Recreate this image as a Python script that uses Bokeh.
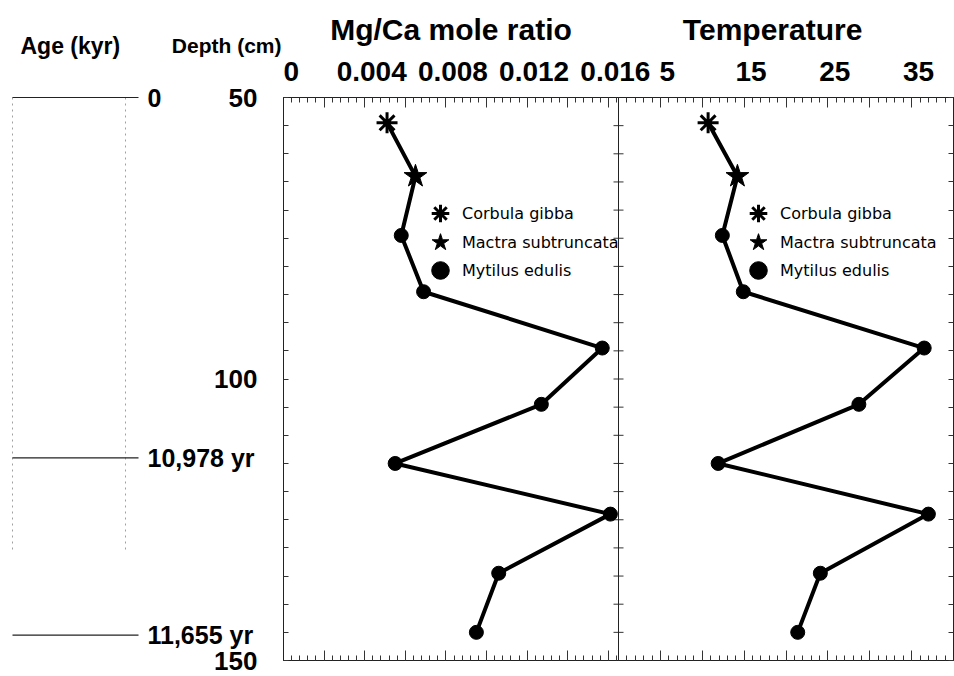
from bokeh.plotting import figure
from bokeh.layouts import row
from bokeh.core.properties import value
from bokeh.models import (Range1d, LinearAxis, FixedTicker, CustomJSTickFormatter, Span,
                          ColumnDataSource, Legend, LegendItem)
from bokeh.embed import file_html
from bokeh.resources import INLINE

# ---------------- data ----------------
DEPTH_CM = [54.5, 64, 74.5, 84.5, 94.5, 104.5, 115, 124, 134.5, 145]
MG_CA = [0.0051, 0.0065, 0.0058, 0.0069, 0.0157, 0.0127, 0.0055, 0.0161, 0.0106, 0.0095]
TEMP_C = [10.7, 14.2, 12.4, 14.9, 36.5, 28.7, 11.9, 37.0, 24.1, 21.4]
SPECIES = ["Corbula gibba", "Mactra subtruncata"] + ["Mytilus edulis"] * 8
SPECIES_ORDER = ["Corbula gibba", "Mactra subtruncata", "Mytilus edulis"]

AGE_DEPTH_CM = [50, 114, 145.5]
AGE_LABELS = ["0", "10,978 yr", "11,655 yr"]

MG_TICKS = [0, 0.002, 0.004, 0.006, 0.008, 0.010, 0.012, 0.014, 0.016]
MG_LABELED = [0, 0.004, 0.008, 0.012, 0.016]
MG_LABELS = ["0", "0.004", "0.008", "0.012", "0.016"]
TEMP_TICKS = [0, 5, 10, 15, 20, 25, 30, 35, 40]
TEMP_LABELED = [5, 15, 25, 35]
TEMP_LABELS = ["5", "15", "25", "35"]
DEPTH_TICKS = list(range(50, 151, 5))
DEPTH_LABELED = [50, 100, 150]

PANEL_TITLES = ["Mg/Ca mole ratio", "Temperature"]
COLUMN_HEADERS = ["Age (kyr)", "Depth (cm)"]

# ---------------- layout ----------------
W, H = 954, 676
LEFT_W = 283                 # width of the age / depth column
FRAME_T, FRAME_B = 97, 660
PANEL_W = 335
MG_MAX = 0.0165
T_MAX = 40
DEPTH_TOP, DEPTH_BOT = 50, 150
LABEL_SHIFT_PX = 7           # tick labels sit a little right of their ticks
FONT = "Liberation Sans"

PX_PER_MG = PANEL_W / MG_MAX
PX_PER_CM = (FRAME_B - FRAME_T) / (DEPTH_BOT - DEPTH_TOP)


def depth_at(py):
    """Canvas pixel row -> depth coordinate."""
    return DEPTH_TOP + (py - FRAME_T) / PX_PER_CM


def temp_to_shared(t):
    """Temperature -> position on the shared two-panel x coordinate."""
    return MG_MAX * (1 + t / T_MAX)


# ================= left column: age and depth scale =================
col = figure(width=LEFT_W, height=H,
             x_range=Range1d(0, LEFT_W), y_range=Range1d(depth_at(H), depth_at(0)),
             x_axis_location=None, y_axis_location=None,
             min_border_left=0, min_border_right=0, min_border_top=0, min_border_bottom=0,
             output_backend="svg", toolbar_location=None)
col.frame_align = False
col.outline_line_color = None
for g in col.grid:
    g.visible = False

bold = dict(text_font=value(FONT), text_font_style="bold", text_color="black",
            text_baseline="middle")

col.text(x=[20], y=[depth_at(45)], text=[COLUMN_HEADERS[0]], text_font_size="23px",
         text_align="left", **bold)
col.text(x=[281], y=[depth_at(45)], text=[COLUMN_HEADERS[1]], text_font_size="21px",
         text_align="right", **bold)

# faint vertical rules of the age column
col.segment(x0=[12, 125], y0=DEPTH_TOP, x1=[12, 125], y1=depth_at(550),
            line_color="#a0a0a0", line_width=1, line_dash="dotted")
# dated horizons
col.segment(x0=12, y0=AGE_DEPTH_CM, x1=138, y1=AGE_DEPTH_CM,
            line_color="#222222", line_width=1.2)
col.text(x=147, y=AGE_DEPTH_CM, text=AGE_LABELS, text_font_size="25px",
         text_align="left", **bold)
# depth scale labels
col.text(x=257, y=DEPTH_LABELED, text=[str(d) for d in DEPTH_LABELED],
         text_font_size="26px", text_align="right", **bold)

# ================= the two data panels =================
p = figure(width=W - LEFT_W, height=H,
           x_range=Range1d(0, 2 * MG_MAX),
           y_range=Range1d(DEPTH_BOT, DEPTH_TOP),
           x_axis_location=None, y_axis_location=None,
           min_border_left=0, min_border_right=W - LEFT_W - 2 * PANEL_W,
           min_border_top=FRAME_T, min_border_bottom=H - FRAME_B,
           output_backend="svg", toolbar_location=None)
p.frame_align = False
p.extra_x_ranges = {
    "temp": Range1d(-T_MAX, T_MAX),
    "lbl": Range1d(-LABEL_SHIFT_PX / PX_PER_MG, 2 * MG_MAX - LABEL_SHIFT_PX / PX_PER_MG),
}
p.outline_line_color = "#222222"
p.outline_line_width = 1
for g in p.grid:
    g.visible = False

tick_only = dict(major_tick_out=0, minor_tick_out=0,
                 major_tick_line_color="#333333", minor_tick_line_color="#333333",
                 axis_line_color="#222222", major_label_text_color=None)

# tick marks of both panels on the shared x coordinate
top_major = MG_TICKS + [temp_to_shared(t) for t in TEMP_TICKS]
top_minor = [i * 0.0004 for i in range(42)] + [temp_to_shared(i) for i in range(41)]

p.add_layout(LinearAxis(ticker=FixedTicker(ticks=top_major, minor_ticks=top_minor),
                        major_tick_in=10, minor_tick_in=5, **tick_only), "above")
p.add_layout(LinearAxis(ticker=FixedTicker(ticks=top_major, minor_ticks=top_minor),
                        major_tick_in=10, minor_tick_in=5, **tick_only), "below")
p.add_layout(LinearAxis(ticker=FixedTicker(ticks=DEPTH_TICKS, minor_ticks=[]),
                        major_tick_in=5, minor_tick_in=0, **tick_only), "left")
p.add_layout(LinearAxis(ticker=FixedTicker(ticks=DEPTH_TICKS, minor_ticks=[]),
                        major_tick_in=5, minor_tick_in=0, **tick_only), "right")


def label_axis(ticks, labels, range_name, size, standoff):
    fmt = CustomJSTickFormatter(args=dict(vals=ticks, labs=labels), code="""
const i = vals.findIndex(v => Math.abs(v - tick) < 1e-9);
return i < 0 ? "" : labs[i];
""")
    return LinearAxis(x_range_name=range_name,
                      ticker=FixedTicker(ticks=ticks, minor_ticks=[]), formatter=fmt,
                      major_tick_in=0, major_tick_out=0, minor_tick_in=0, minor_tick_out=0,
                      axis_line_color=None, major_tick_line_color=None,
                      minor_tick_line_color=None, major_label_standoff=standoff,
                      major_label_text_font=FONT, major_label_text_font_style="bold",
                      major_label_text_font_size=size, major_label_text_color="black")


# numeric labels of both scales, one row
num_ticks = MG_LABELED + [temp_to_shared(t) for t in TEMP_LABELED]
p.add_layout(label_axis(num_ticks, MG_LABELS + TEMP_LABELS, "lbl", "28px", 17), "above")
# panel titles, one row above the numbers
title_ticks = [MG_MAX / 2, temp_to_shared(18.4)]
p.add_layout(label_axis(title_ticks, PANEL_TITLES, "default", "30px", 13), "above")

# panel divider with its own inward ticks
p.add_layout(Span(location=MG_MAX, dimension="height", line_color="#222222", line_width=1))
p.scatter(x=[MG_MAX] * len(DEPTH_TICKS), y=DEPTH_TICKS, marker="dash", size=10,
          line_color="#333333", line_width=1)

# ---------------- series ----------------
src = ColumnDataSource(dict(depth=DEPTH_CM, mg=MG_CA, temp=TEMP_C))


def subset(name):
    idx = [i for i, s in enumerate(SPECIES) if s == name]
    return ColumnDataSource(dict(depth=[DEPTH_CM[i] for i in idx],
                                 mg=[MG_CA[i] for i in idx],
                                 temp=[TEMP_C[i] for i in idx]))


species_src = {name: subset(name) for name in SPECIES_ORDER}

legend_style = dict(glyph_width=44, glyph_height=56, padding=0, margin=0,
                    label_standoff=0, border_line_alpha=0, background_fill_alpha=0,
                    label_text_font="DejaVu Sans", label_text_font_size="16px",
                    label_text_color="black")
LEGEND_ROW_Y = [213, 242, 270]        # key centres, canvas rows

for xcol, rng, key_x in (("mg", "default", 440), ("temp", "temp", 758)):
    p.line(xcol, "depth", source=src, x_range_name=rng, line_width=4, line_color="black")

    cor = species_src["Corbula gibba"]
    r_cor = p.scatter(xcol, "depth", source=cor, x_range_name=rng, marker="asterisk",
                      size=21, line_width=3, line_color="black")
    p.scatter(xcol, "depth", source=cor, x_range_name=rng, marker="circle", size=7,
              color="black")

    r_mac = p.scatter(xcol, "depth", source=species_src["Mactra subtruncata"],
                      x_range_name=rng, marker="star", size=24, line_width=1,
                      color="black")

    r_myt = p.scatter(xcol, "depth", source=species_src["Mytilus edulis"], x_range_name=rng,
                      marker="circle", size=14, color="black")

    keys = [[r_cor], [r_mac], [r_myt]]
    for name, rends, yc in zip(SPECIES_ORDER, keys, LEGEND_ROW_Y):
        leg = Legend(items=[LegendItem(label=name, renderers=rends)],
                     location=(key_x - 22 - LEFT_W, FRAME_B - (yc + 28)), **legend_style)
        p.add_layout(leg, "center")

layout = row(col, p)
open("out.html", "w").write(file_html(layout, INLINE))
